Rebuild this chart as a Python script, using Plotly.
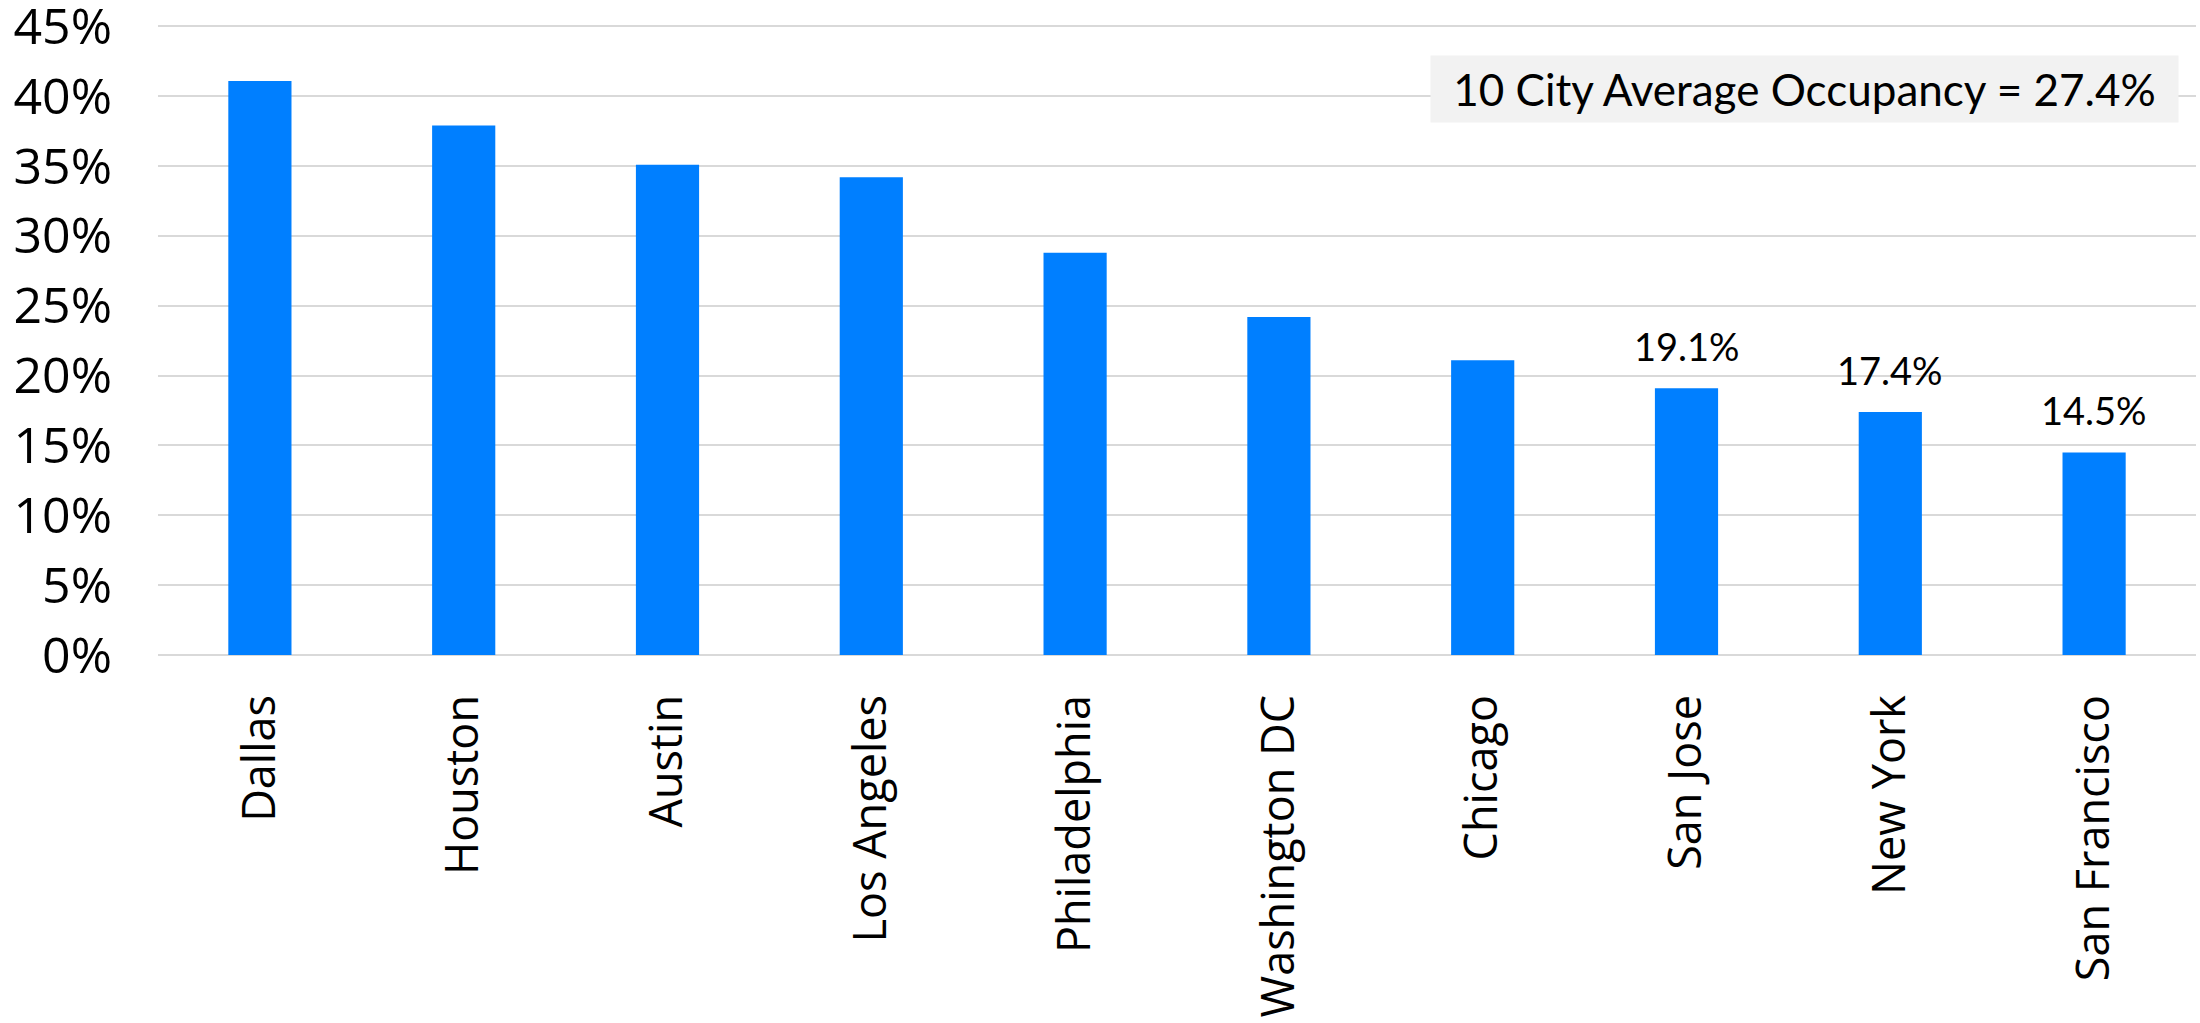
import plotly.graph_objects as go

cities = ["Dallas", "Houston", "Austin", "Los Angeles", "Philadelphia",
          "Washington DC", "Chicago", "San Jose", "New York", "San Francisco"]
occupancy = [41.1, 37.9, 35.1, 34.2, 28.8, 24.2, 21.1, 19.1, 17.4, 14.5]
labelled_cities = ["San Jose", "New York", "San Francisco"]
labelled_values = [19.1, 17.4, 14.5]
label_texts = ["19.1%", "17.4%", "14.5%"]
y_ticks = [0, 5, 10, 15, 20, 25, 30, 35, 40, 45]
y_tick_labels = ["0%", "5%", "10%", "15%", "20%", "25%", "30%", "35%", "40%", "45%"]
average_text = "10 City Average Occupancy = 27.4%"

fig = go.Figure()
fig.add_trace(go.Bar(
    x=cities, y=occupancy,
    marker=dict(color="#007FFF", line=dict(width=0)),
    hoverinfo="skip",
))

for c, v, t in zip(labelled_cities, labelled_values, label_texts):
    fig.add_annotation(
        x=c, y=v, xref="x", yref="y", text=t, showarrow=False,
        yanchor="bottom", yshift=17,
        font=dict(family="Lato", size=38, color="#000000"),
    )

fig.add_annotation(
    x=0.808, y=0.898, xref="paper", yref="paper",
    xanchor="center", yanchor="middle",
    text=average_text, showarrow=False,
    width=747, height=66, borderpad=0, align="center", valign="middle",
    bgcolor="#F2F2F2",
    font=dict(family="Lato", size=44, color="#000000"),
)

fig.update_layout(
    width=2200, height=1023,
    margin=dict(l=158, r=4, t=25, b=368, pad=0, autoexpand=False),
    paper_bgcolor="white", plot_bgcolor="white",
    bargap=0.69,
    showlegend=False,
    font=dict(family="Open Sans", color="#000000"),
)
fig.update_xaxes(
    tickangle=-90, tickfont=dict(family="Open Sans", size=45, color="#000000"),
    showgrid=False, showline=False, ticks="", ticklabelstandoff=30,
    range=[-0.5, 9.5], automargin=False,
)
fig.update_yaxes(
    range=[0, 45.1], tickvals=y_ticks, ticktext=y_tick_labels,
    tickfont=dict(family="Open Sans", size=50, color="#000000"),
    showgrid=True, gridcolor="#D9D9D9", gridwidth=2,
    zeroline=True, zerolinecolor="#D9D9D9", zerolinewidth=2,
    showline=False, ticks="", ticklabelstandoff=45,
    ticklabeloverflow="allow", automargin=False,
)

fig.write_html("out.html")
